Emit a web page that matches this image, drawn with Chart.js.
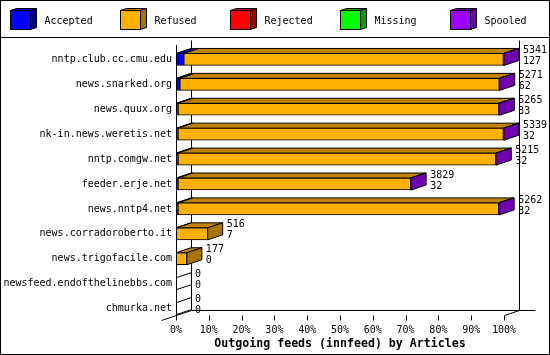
<!DOCTYPE html>
<html lang="en">
<head>
<meta charset="UTF-8">
<title>Outgoing feeds (innfeed) by Articles</title>
<script src="https://cdn.jsdelivr.net/npm/chart.js"></script>
<style>
  html, body { margin: 0; padding: 0; background: #fff; }
  canvas { display: block; }
</style>
</head>
<body>
<canvas id="feedChart" width="550" height="355"></canvas>
<script>
const hosts = [
  'nntp.club.cc.cmu.edu', 'news.snarked.org', 'news.quux.org', 'nk-in.news.weretis.net',
  'nntp.comgw.net', 'feeder.erje.net', 'news.nntp4.net', 'news.corradoroberto.it',
  'news.trigofacile.com', 'newsfeed.endofthelinebbs.com', 'chmurka.net'
];
const offered  = [5341, 5271, 5265, 5339, 5215, 3829, 5262, 516, 177, 0, 0];
const accepted = [127, 62, 33, 32, 32, 32, 32, 7, 0, 0, 0];
const refused  = [5204, 5201, 5224, 5299, 5175, 3789, 5222, 509, 177, 0, 0];
const rejected = [0, 0, 0, 0, 0, 0, 0, 0, 0, 0, 0];
const missing  = [0, 0, 0, 0, 0, 0, 0, 0, 0, 0, 0];
const spooled  = [10, 8, 8, 8, 8, 8, 8, 0, 0, 0, 0];
const seriesNames = ['Accepted', 'Refused', 'Rejected', 'Missing', 'Spooled'];
const xTicks = [0, 10, 20, 30, 40, 50, 60, 70, 80, 90, 100];

const fronts = ['#0000ff', '#ffb000', '#ff0000', '#00ff00', '#a000ff'];
const tops   = ['#0000c0', '#c08400', '#c00000', '#00c000', '#8000c8'];
const sides  = ['#0000a0', '#a87400', '#a80000', '#00a000', '#7000b0'];

const maxOffered = Math.max(...offered);
const pct = arr => arr.map(v => v / maxOffered * 100);
const series = [accepted, refused, rejected, missing, spooled];

const DX = 15, DY = -5;
const FONT = "'DejaVu Sans Mono', monospace";

function poly(ctx, pts, fill) {
  ctx.beginPath();
  ctx.moveTo(pts[0][0], pts[0][1]);
  for (let i = 1; i < pts.length; i++) ctx.lineTo(pts[i][0], pts[i][1]);
  ctx.closePath();
  if (fill) { ctx.fillStyle = fill; ctx.fill(); }
  ctx.stroke();
}
function line(ctx, x1, y1, x2, y2) {
  ctx.beginPath();
  ctx.moveTo(x1, y1);
  ctx.lineTo(x2, y2);
  ctx.stroke();
}

const threeD = {
  id: 'threeD',
  beforeDatasetsDraw(chart) {
    const { ctx, chartArea: a, scales: { x } } = chart;
    const x0 = Math.round(x.getPixelForValue(0)) + 0.5;
    const x1 = Math.round(x.getPixelForValue(100)) + 0.5;
    const backTop = a.top - 7 + 0.5;
    const floorBack = a.bottom - 11 + 0.5;
    ctx.save();
    ctx.strokeStyle = '#000';
    ctx.lineWidth = 1;
    // back walls and floor
    line(ctx, x0 + DX, backTop, x0 + DX, floorBack);
    line(ctx, x1 + DX, backTop, x1 + DX, floorBack);
    line(ctx, x0 + DX, floorBack, x1 + DX + 16, floorBack);
    line(ctx, x0 + DX, floorBack, x0 - DX, floorBack - 2 * DY);
    line(ctx, x1, floorBack - DY, x1 + DX, floorBack);

    // top and side faces of each bar
    const metas = chart.data.datasets.map((d, i) => chart.getDatasetMeta(i));
    hosts.forEach((h, row) => {
      let last = -1, end = x0, top = 0, bottom = 0;
      metas.forEach((m, di) => {
        const el = m.data[row];
        const p = el.getProps(['x', 'y', 'base', 'height'], true);
        top = p.y - p.height / 2;
        bottom = p.y + p.height / 2;
        if (series[di][row] <= 0) return;
        const s = Math.min(p.x, p.base), e = Math.max(p.x, p.base);
        poly(ctx, [[s, top], [e, top], [e + DX, top + DY], [s + DX, top + DY]], tops[di]);
        last = di;
        end = e;
      });
      if (last >= 0) {
        poly(ctx, [[end, top], [end + DX, top + DY], [end + DX, bottom + DY], [end, bottom]], sides[last]);
      } else {
        poly(ctx, [[x0, top], [x0 + DX, top + DY], [x0 + DX, bottom + DY], [x0, bottom]], null);
      }
    });
    ctx.restore();
  },
  afterDatasetsDraw(chart) {
    const { ctx, chartArea: a, scales: { x, y } } = chart;
    const x0 = Math.round(x.getPixelForValue(0)) + 0.5;
    const floorFront = a.bottom - 6 + 0.5;
    ctx.save();
    ctx.strokeStyle = '#000';
    ctx.lineWidth = 1;
    line(ctx, x0, a.top - 2, x0, floorFront);
    xTicks.forEach(t => {
      const px = Math.round(x.getPixelForValue(t)) + 0.5;
      line(ctx, px, floorFront, px, floorFront + 5);
    });
    // value labels: offered over accepted
    ctx.fillStyle = '#000';
    ctx.font = '10px ' + FONT;
    ctx.textAlign = 'left';
    ctx.textBaseline = 'middle';
    hosts.forEach((h, row) => {
      const cy = y.getPixelForValue(row);
      const tx = x.getPixelForValue(offered[row] / maxOffered * 100) + DX + 4;
      ctx.fillText(String(offered[row]), tx, cy - 9);
      ctx.fillText(String(accepted[row]), tx, cy + 2);
    });
    ctx.restore();
  },
  afterDraw(chart) {
    const { ctx, width, height } = chart;
    ctx.save();
    ctx.strokeStyle = '#000';
    ctx.lineWidth = 1;
    ctx.strokeRect(0.5, 0.5, width - 1, height - 1);
    line(ctx, 0, 37.5, width, 37.5);
    // legend with little cubes
    ctx.font = '10px ' + FONT;
    ctx.textAlign = 'left';
    ctx.textBaseline = 'middle';
    seriesNames.forEach((name, i) => {
      const bx = 10.5 + i * 110, by = 10.5, w = 20, hh = 19, dx = 6, dy = -2;
      poly(ctx, [[bx, by], [bx + w, by], [bx + w + dx, by + dy], [bx + dx, by + dy]], sides[i]);
      poly(ctx, [[bx + w, by], [bx + w + dx, by + dy], [bx + w + dx, by + hh + dy], [bx + w, by + hh]], sides[i]);
      ctx.fillStyle = fronts[i];
      ctx.fillRect(bx, by, w, hh);
      ctx.strokeRect(bx, by, w, hh);
      ctx.fillStyle = '#000';
      ctx.fillText(name, bx + 34, 21);
    });
    ctx.restore();
  }
};

Chart.defaults.font.family = FONT;
Chart.defaults.font.size = 10;
Chart.defaults.color = '#000';

new Chart(document.getElementById('feedChart'), {
  type: 'bar',
  data: {
    labels: hosts,
    datasets: seriesNames.map((name, i) => ({
      label: name,
      data: pct(series[i]),
      backgroundColor: fronts[i],
      borderColor: '#000',
      borderWidth: 1,
      borderSkipped: false,
      barThickness: 12
    }))
  },
  options: {
    indexAxis: 'y',
    responsive: false,
    animation: false,
    events: [],
    layout: { padding: { top: 47, right: 46, bottom: 4, left: 0 } },
    plugins: {
      legend: { display: false },
      tooltip: { enabled: false }
    },
    scales: {
      x: {
        stacked: true,
        min: 0,
        max: 100,
        grid: { display: false, drawTicks: false },
        border: { display: false },
        afterBuildTicks: scale => { scale.ticks = xTicks.map(v => ({ value: v })); },
        ticks: { padding: 3, maxRotation: 0, autoSkip: false, callback: v => v + '%' },
        title: {
          display: true,
          text: 'Outgoing feeds (innfeed) by Articles',
          padding: 0,
          font: { family: FONT, size: 11.6, weight: 'bold' }
        },
        afterFit: scale => { scale.height = 30; }
      },
      y: {
        stacked: true,
        grid: { display: false, drawTicks: false },
        border: { display: false },
        ticks: { padding: 4, autoSkip: false },
        afterFit: scale => { scale.width = 176; }
      }
    }
  },
  plugins: [threeD]
});
</script>
</body>
</html>
